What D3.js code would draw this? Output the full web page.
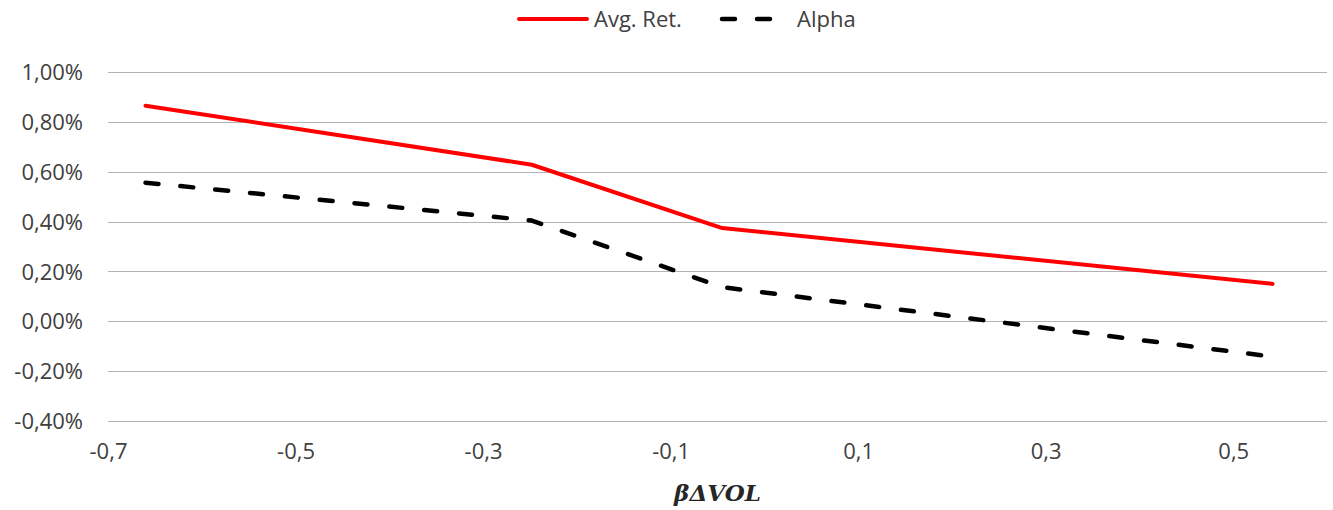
<!DOCTYPE html>
<html>
<head>
<meta charset="utf-8">
<script src="https://cdn.jsdelivr.net/npm/d3@7"></script>
<style>
  body { margin: 0; background: #fff; }
  svg { display: block; }
  .tick text { font-family: "Open Sans", "Noto Sans", sans-serif; fill: #404040; }
</style>
</head>
<body>
<div id="chart"></div>
<script>
// data
var xValues = [-0.66, -0.248, -0.045, 0.542];
var avgRet = [0.865, 0.628, 0.374, 0.150];
var alpha = [0.556, 0.404, 0.137, -0.142];
var xTicks = [-0.7, -0.5, -0.3, -0.1, 0.1, 0.3, 0.5];
var yTicks = [-0.4, -0.2, 0, 0.2, 0.4, 0.6, 0.8, 1.0];

var width = 1333, height = 510;
var margin = { top: 72, right: 6, bottom: 89, left: 108 };

var svg = d3.select("#chart").append("svg")
  .attr("width", width)
  .attr("height", height);

var x = d3.scaleLinear().domain([-0.7, 0.6]).range([margin.left, width - margin.right]);
var y = d3.scaleLinear().domain([-0.4, 1.0]).range([height - margin.bottom, margin.top]);

// comma decimals, plain hyphen for minus
var fmtY = function(d) { return d3.format(".2f")(d).replace(".", ",").replace("\u2212", "-") + "%"; };
var fmtX = function(d) { return d3.format(".1f")(d).replace(".", ",").replace("\u2212", "-"); };

// gridlines
svg.append("g")
  .selectAll("line")
  .data(yTicks)
  .enter().append("line")
  .attr("x1", x.range()[0])
  .attr("x2", x.range()[1])
  .attr("y1", function(d) { return Math.round(y(d)) + 0.5; })
  .attr("y2", function(d) { return Math.round(y(d)) + 0.5; })
  .attr("stroke", "#b3b3b3")
  .attr("stroke-width", 1);

// y axis labels
var yAxis = svg.append("g")
  .attr("transform", "translate(" + (margin.left - 25) + ",0)")
  .call(d3.axisLeft(y).tickValues(yTicks).tickFormat(fmtY).tickSize(0).tickPadding(0));
yAxis.select(".domain").remove();
yAxis.selectAll("text").attr("font-size", 22).attr("dy", "0.35em");

// x axis labels
var xAxis = svg.append("g")
  .attr("transform", "translate(0," + (height - margin.bottom) + ")")
  .call(d3.axisBottom(x).tickValues(xTicks).tickFormat(fmtX).tickSize(0).tickPadding(22));
xAxis.select(".domain").remove();
xAxis.selectAll("text").attr("font-size", 22);

// axis title
svg.append("text")
  .attr("x", (x.range()[0] + x.range()[1]) / 2)
  .attr("y", 501)
  .attr("text-anchor", "middle")
  .attr("font-family", "'DejaVu Serif', serif")
  .attr("font-style", "italic")
  .attr("font-weight", "bold")
  .attr("font-size", 23)
  .attr("fill", "#262626")
  .text("βΔVOL");

var line = d3.line()
  .x(function(d) { return x(d[0]); })
  .y(function(d) { return y(d[1]); });

svg.append("path")
  .datum(d3.zip(xValues, avgRet))
  .attr("d", line)
  .attr("fill", "none")
  .attr("stroke", "#ff0000")
  .attr("stroke-width", 4)
  .attr("stroke-linecap", "round")
  .attr("stroke-linejoin", "round");

svg.append("path")
  .datum(d3.zip(xValues, alpha))
  .attr("d", line)
  .attr("fill", "none")
  .attr("stroke", "#000")
  .attr("stroke-width", 4.5)
  .attr("stroke-dasharray", "13,22")
  .attr("stroke-linecap", "round")
  .attr("stroke-linejoin", "round");

// legend
var legend = svg.append("g").attr("font-family", "'Open Sans', 'Noto Sans', sans-serif")
  .attr("font-size", 22).attr("fill", "#404040");
legend.append("line")
  .attr("x1", 519).attr("x2", 587).attr("y1", 19).attr("y2", 19)
  .attr("stroke", "#ff0000").attr("stroke-width", 4).attr("stroke-linecap", "round");
legend.append("text").attr("x", 594).attr("y", 19).attr("dy", "0.35em").text("Avg. Ret.");
legend.append("line")
  .attr("x1", 722).attr("x2", 775).attr("y1", 19).attr("y2", 19)
  .attr("stroke", "#000").attr("stroke-width", 4.5)
  .attr("stroke-dasharray", "13,22").attr("stroke-linecap", "round");
legend.append("text").attr("x", 797).attr("y", 19).attr("dy", "0.35em").text("Alpha");
</script>
</body>
</html>
